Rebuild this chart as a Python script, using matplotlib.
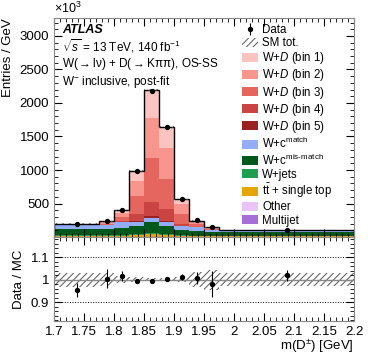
import numpy as np
import matplotlib
matplotlib.use("Agg")
import matplotlib.pyplot as plt
from matplotlib.patches import Patch
from matplotlib.ticker import MultipleLocator

plt.rcParams['font.family'] = ['Liberation Sans', 'DejaVu Sans']
plt.rcParams['mathtext.fontset'] = 'custom'
plt.rcParams['mathtext.rm'] = 'Liberation Sans'
plt.rcParams['mathtext.it'] = 'Liberation Sans:italic'
plt.rcParams['mathtext.bf'] = 'Liberation Sans:bold'
plt.rcParams['hatch.linewidth'] = 0.7

# bins of m(D+-) in GeV
edges = [1.7, 1.775, 1.8, 1.825, 1.85, 1.875, 1.9, 1.925, 1.95, 1.975, 2.2]

# entries / GeV in units of 10^3, stacked from bottom to top
multijet = [2, 2, 2, 3, 3, 3, 2, 2, 2, 2]
other = [3, 3, 3, 3, 4, 4, 3, 3, 3, 2]
ttbar = [8, 10, 12, 20, 35, 25, 12, 8, 6, 5]
wjets = [12, 12, 14, 16, 18, 16, 12, 10, 9, 8]
wc_mis = [94, 100, 110, 117, 159, 122, 80, 62, 50, 53]
wc_match = [56, 48, 78, 69, 68, 55, 50, 59, 34, 25]
wd_bin5 = [3, 4, 5, 10, 30, 10, 5, 3, 2, 1]
wd_bin4 = [4, 8, 20, 105, 208, 182, 29, 10, 6, 2]
wd_bin3 = [7, 15, 55, 272, 651, 456, 149, 40, 15, 4]
wd_bin2 = [6, 16, 60, 223, 605, 462, 149, 34, 14, 3]
wd_bin1 = [5, 15, 41, 149, 406, 306, 74, 14, 7, 2]

data = [191, 234, 407, 983, 2172, 1643, 571, 247, 145, 109]
data_err_ratio = [0.031, 0.043, 0.022, 0.006, 0.004, 0.005, 0.013, 0.026, 0.058, 0.024]
mc_err_ratio = [0.031, 0.030, 0.015, 0.010, 0.007, 0.008, 0.012, 0.034, 0.045, 0.028]

components = [
    (multijet, '#a56fd6', 'Multijet'),
    (other, '#ebc4f7', 'Other'),
    (ttbar, '#e5a400', r'$\mathrm{t\bar{t}}$ + single top'),
    (wjets, '#1fa050', 'W+jets'),
    (wc_mis, '#00581a', r'W+c$^{\mathrm{mis\text{-}match}}$'),
    (wc_match, '#94aef5', r'W+c$^{\mathrm{match}}$'),
    (wd_bin5, '#9b2020', r'W+$D$ (bin 5)'),
    (wd_bin4, '#c94442', r'W+$D$ (bin 4)'),
    (wd_bin3, '#e4665f', r'W+$D$ (bin 3)'),
    (wd_bin2, '#f8968e', r'W+$D$ (bin 2)'),
    (wd_bin1, '#fbc4c0', r'W+$D$ (bin 1)'),
]

edges = np.array(edges)
centers = 0.5 * (edges[:-1] + edges[1:])
widths = np.diff(edges)

fig = plt.figure(figsize=(3.68, 3.57), dpi=100)
ax = fig.add_axes([0.147, 0.336, 0.815, 0.614])
rax = fig.add_axes([0.147, 0.101, 0.815, 0.235], sharex=ax)

bottom = np.zeros(len(centers))
for vals, col, lab in components:
    vals = np.array(vals, dtype=float)
    ax.bar(edges[:-1], vals, width=widths, bottom=bottom, align='edge',
           color=col, linewidth=0)
    bottom += vals
total = bottom

ax.stairs(total, edges, color='black', linewidth=1.0)
ax.bar(edges[:-1], 2 * total * np.array(mc_err_ratio), width=widths,
       bottom=total * (1 - np.array(mc_err_ratio)), align='edge',
       fill=False, hatch='/////', edgecolor='#555555', linewidth=0)
ax.errorbar(centers, data, yerr=np.sqrt(np.array(data)) * 0.3, fmt='o', ms=2.8,
            color='black', elinewidth=0.8, capsize=0)

ax.set_xlim(1.7, 2.2)
ax.set_ylim(0, 3270)
ax.set_yticks([500, 1000, 1500, 2000, 2500, 3000])
ax.yaxis.set_minor_locator(MultipleLocator(100))
ax.xaxis.set_major_locator(MultipleLocator(0.05))
ax.xaxis.set_minor_locator(MultipleLocator(0.01))
ax.set_ylabel('Entries / GeV', fontsize=9.5, loc='top')
plt.setp(ax.get_xticklabels(), visible=False)

for a in (ax, rax):
    a.tick_params(which='both', direction='in', top=True, right=True, labelsize=9.5)
    a.tick_params(which='major', length=6)
    a.tick_params(which='minor', length=3)
    for s in a.spines.values():
        s.set_color('#888888')

fig.text(0.147, 0.955, r'$\times10^{3}$', fontsize=9, ha='left', va='bottom')

fig.text(0.168, 0.907, 'ATLAS', fontsize=9, fontweight='bold', style='italic',
         va='baseline')
fig.text(0.168, 0.857, r'$\sqrt{s}$ = 13 TeV, 140 fb$^{-1}$', fontsize=8.5,
         va='baseline')
fig.text(0.168, 0.812,
         r'W($\rightarrow\mathrm{l\nu}$) + D($\rightarrow\mathrm{K\pi\pi}$), OS-SS',
         fontsize=8.5, va='baseline')
fig.text(0.168, 0.762, r'W$^{-}$ inclusive, post-fit', fontsize=8.5,
         va='baseline')

handles = [
    ax.errorbar([], [], yerr=[], fmt='o', ms=2.8, color='black', elinewidth=0.8),
    Patch(facecolor='white', edgecolor='#555555', hatch='/////', linewidth=0),
]
labels = ['Data', 'SM tot.']
for vals, col, lab in components[::-1]:
    handles.append(Patch(facecolor=col, linewidth=0))
    labels.append(lab)
ax.legend(handles, labels, loc='upper left', bbox_to_anchor=(0.627, 0.972),
          frameon=False, fontsize=8.3, handlelength=1.4, handleheight=0.8,
          labelspacing=0.1, handletextpad=0.35, borderaxespad=0, borderpad=0)

# ratio panel
ratio = np.array(data) / total
rax.bar(edges[:-1], 2 * np.array(mc_err_ratio), width=widths,
        bottom=1 - np.array(mc_err_ratio), align='edge',
        fill=False, hatch='/////', edgecolor='#555555', linewidth=0)
rax.axhline(1.0, color='#888888', linewidth=1)
rax.axhline(1.1, color='black', linewidth=0.7, linestyle=':')
rax.axhline(0.9, color='black', linewidth=0.7, linestyle=':')
rax.errorbar(centers, ratio, yerr=data_err_ratio, fmt='o', ms=2.8,
             color='black', elinewidth=0.8, capsize=0)
rax.set_ylim(0.816, 1.19)
rax.set_yticks([0.9, 1.0, 1.1])
rax.set_yticklabels(['0.9', '1', '1.1'])
rax.yaxis.set_minor_locator(MultipleLocator(0.02))
rax.set_xticks([1.7, 1.75, 1.8, 1.85, 1.9, 1.95, 2.0, 2.05, 2.1, 2.15, 2.2])
rax.set_xticklabels(['1.7', '1.75', '1.8', '1.85', '1.9', '1.95', '2', '2.05',
                     '2.1', '2.15', '2.2'])
rax.xaxis.set_minor_locator(MultipleLocator(0.01))
rax.set_xlim(1.7, 2.2)
rax.set_ylabel('Data / MC', fontsize=9.5)
rax.set_xlabel(r'm(D$^{\pm}$) [GeV]', fontsize=9.5, loc='right', labelpad=0)

fig.savefig('out.png', dpi=100)
